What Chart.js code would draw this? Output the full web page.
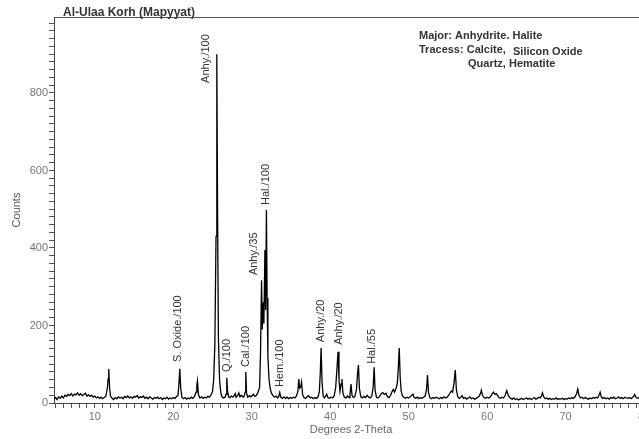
<!DOCTYPE html>
<html>
<head>
<meta charset="utf-8">
<title>Al-Ulaa Korh (Mapyyat)</title>
<script src="https://cdn.jsdelivr.net/npm/chart.js@4.4.0/dist/chart.umd.min.js"></script>
<style>
  html, body { margin: 0; padding: 0; background: #fff; overflow: hidden; }
  #wrap { width: 660px; height: 439px; }
</style>
</head>
<body>
<div id="wrap"><canvas id="xrd"></canvas></div>
<script>
const chartTitle = "Al-Ulaa Korh (Mapyyat)";

// 2-theta positions (degrees), one line per stretch of the scan
const twoTheta = [
  4.8,5.0,5.2,5.4,5.6,5.8,6.0,6.2,6.4,6.6,6.8,7.0,7.2,7.4,7.6,7.8,8.0,8.2,8.4,8.6,8.8,9.0,9.2,9.4,9.6,9.8,10.0,10.2,10.4,10.6,10.8,11.0,11.2,11.4,
  11.6,11.7,11.78,11.88,12.0,
  12.2,12.4,12.6,12.8,13.0,13.2,13.4,13.6,13.8,14.0,14.2,14.4,14.6,14.8,15.0,15.2,15.4,15.6,15.8,16.0,16.2,16.4,16.6,16.8,17.0,17.2,17.4,17.6,17.8,18.0,18.2,18.4,18.6,18.8,19.0,19.2,19.4,19.6,19.8,20.0,20.2,20.4,20.6,
  20.72,20.83,20.95,21.1,
  21.3,21.5,21.7,21.9,22.1,22.3,22.5,22.7,22.9,23.0,23.08,23.2,23.4,23.6,23.8,24.0,24.2,24.4,24.6,24.8,
  25.0,25.15,25.3,25.45,25.55,25.65,25.75,25.9,26.05,26.2,26.4,26.6,
  26.72,26.82,26.92,27.05,27.2,27.4,27.6,27.8,27.9,28.0,28.2,28.35,28.5,28.7,28.9,29.05,29.15,29.24,29.34,29.5,
  29.7,29.9,30.1,30.2,30.4,30.6,30.8,
  31.0,31.12,31.25,31.35,31.45,31.55,31.68,31.77,31.87,31.96,32.06,32.2,32.35,32.5,32.7,32.9,
  33.1,33.3,33.45,33.57,33.7,33.9,34.1,34.3,34.5,34.7,34.9,35.1,35.3,35.5,35.7,35.88,36.0,36.1,36.22,36.35,36.48,36.65,36.85,
  37.05,37.25,37.45,37.65,37.85,38.05,38.25,38.45,38.62,38.74,38.84,38.96,39.1,39.25,39.4,39.55,39.7,39.9,40.1,40.3,40.5,
  40.7,40.88,41.0,41.12,41.25,41.4,41.5,41.62,41.8,42.0,42.2,42.4,42.52,42.65,42.78,42.95,43.15,43.35,43.5,43.6,43.72,43.9,
  44.1,44.3,44.5,44.7,44.9,45.1,45.3,45.47,45.6,45.72,45.9,46.1,46.3,46.5,46.7,46.9,47.1,47.3,47.5,47.7,47.9,48.05,48.2,48.4,48.55,48.68,48.8,48.92,49.05,49.2,49.4,49.6,49.8,
  50.0,50.2,50.4,50.55,50.7,50.9,51.1,51.3,51.5,51.7,51.9,52.1,52.27,52.4,52.52,52.7,52.9,53.1,53.3,53.5,53.7,53.9,54.1,54.3,54.5,54.7,54.9,55.1,55.3,55.45,55.6,55.78,55.94,56.08,56.25,56.45,56.65,56.8,
  57.0,57.2,57.4,57.6,57.8,58.0,58.2,58.4,58.6,58.8,59.0,59.15,59.26,59.4,59.6,59.8,60.0,60.2,60.4,60.6,60.8,61.0,61.15,61.3,61.5,61.7,61.9,62.1,62.3,62.5,62.65,62.8,
  63.0,63.2,63.4,63.6,63.8,64.0,64.2,64.4,64.6,64.8,65.0,65.2,65.4,65.6,65.8,66.0,66.2,66.4,66.6,66.8,66.95,67.05,67.2,67.4,67.6,67.8,
  68.0,68.2,68.4,68.6,68.8,69.0,69.2,69.4,69.6,69.8,70.0,70.2,70.4,70.6,70.8,71.0,71.2,71.4,71.55,71.7,71.9,
  72.1,72.3,72.5,72.7,72.9,73.1,73.3,73.5,73.7,73.9,74.1,74.25,74.4,74.55,74.75,74.95,75.15,75.35,75.55,75.75,
  75.95,76.15,76.35,76.55,76.75,76.95,77.15,77.35,77.55,77.75,77.95,78.15,78.35,78.55,78.7,78.8,78.95,79.15,79.35,79.55,79.75,79.95,80.15,80.35,80.5
];

// counts, same lines as above
const counts = [
  10,14,9,16,12,18,13,20,17,22,19,24,18,23,21,26,20,24,19,22,25,18,21,17,20,15,18,13,16,12,15,11,14,17,
  38,62,88,40,18,
  12,9,14,11,16,13,15,11,17,14,18,13,16,12,17,15,19,13,16,14,18,12,15,11,16,13,10,14,12,15,11,14,9,13,11,15,10,13,11,14,12,16,20,
  48,88,38,15,
  11,14,10,13,11,15,12,17,28,45,57,22,13,16,12,15,13,17,15,20,
  30,60,150,430,900,480,170,60,28,16,13,15,
  22,65,30,16,14,18,15,20,24,15,19,26,16,20,15,18,28,80,25,15,
  19,16,20,23,17,20,28,
  40,130,317,190,260,205,395,240,498,270,120,62,38,26,19,15,
  18,13,17,27,15,12,16,12,15,11,14,12,15,13,18,30,62,38,40,54,22,14,12,
  16,19,13,15,11,14,12,16,30,80,142,55,18,13,17,23,14,12,15,13,18,
  40,95,132,60,30,50,62,26,15,13,18,14,22,49,20,14,17,35,80,98,38,16,
  13,17,14,20,15,13,18,40,92,32,15,13,17,24,27,22,25,16,14,20,30,35,28,38,50,90,142,65,30,18,14,12,15,
  13,16,20,23,14,12,15,11,14,12,15,18,35,72,28,14,11,14,12,15,13,11,14,12,16,13,15,20,27,31,28,52,85,35,16,12,15,19,
  12,14,10,13,16,11,13,10,12,15,18,25,33,20,14,12,15,13,16,22,28,22,24,20,14,12,15,13,20,32,22,16,
  12,10,13,9,11,8,10,12,9,11,13,10,12,9,11,14,10,12,15,13,20,26,16,11,13,10,
  12,9,11,10,13,9,11,10,12,9,11,10,13,11,14,12,16,24,36,20,13,
  15,11,14,12,10,13,11,14,12,15,13,20,28,16,12,14,11,13,10,14,
  12,15,11,13,16,12,14,11,15,13,12,14,11,15,18,22,15,12,14,11,13,12,14,11,13
];

// peak labels: text, 2-theta of the text, count where the text starts
const peakNames = ["S. Oxide./100", "Anhy./100", "Q./100", "Cal./100", "Anhy./35",
                   "Hal./100", "Hem./100", "Anhy./20", "Anhy./20", "Hal./55"];
const peakNameTheta = [20.65, 24.15, 26.82, 29.24, 30.25, 31.78, 33.57, 38.79, 41.08, 45.29];
const peakNameCount = [106, 826, 80, 93, 330, 511, 41, 157, 150, 101];

const xTickLabels = [10, 20, 30, 40, 50, 60, 70, 80];
const yTickLabels = [0, 200, 400, 600, 800];

const fontFamily = '"Liberation Sans", Arial, sans-serif';
Chart.defaults.font.family = fontFamily;

const notesPlugin = {
  id: 'notes',
  afterDraw(chart) {
    const ctx = chart.ctx;
    const area = chart.chartArea;
    const xs = chart.scales.x, ys = chart.scales.y;
    ctx.save();
    // top frame line
    ctx.strokeStyle = '#555';
    ctx.lineWidth = 1;
    ctx.beginPath();
    ctx.moveTo(area.left, area.top + 0.5);
    ctx.lineTo(area.right, area.top + 0.5);
    ctx.stroke();

    ctx.fillStyle = '#333';
    ctx.textAlign = 'left';
    ctx.textBaseline = 'alphabetic';
    ctx.font = 'bold 12px ' + fontFamily;
    ctx.fillText(chartTitle, area.left + 9, 16);

    ctx.font = 'bold 11px ' + fontFamily;
    ctx.fillText('Major: Anhydrite. Halite', 419, 39);
    ctx.fillText('Tracess: Calcite,', 419, 53);
    ctx.fillText('Silicon Oxide', 513, 55);
    ctx.fillText('Quartz, Hematite', 468, 67);

    ctx.font = '11px ' + fontFamily;
    ctx.textBaseline = 'middle';
    peakNames.forEach((name, i) => {
      const px = xs.getPixelForValue(peakNameTheta[i]);
      const py = ys.getPixelForValue(peakNameCount[i]);
      ctx.save();
      ctx.translate(px, py);
      ctx.rotate(-Math.PI / 2);
      ctx.fillText(name, 0, 0);
      ctx.restore();
    });
    ctx.restore();
  }
};

new Chart(document.getElementById('xrd'), {
  type: 'line',
  data: {
    datasets: [{
      data: twoTheta.map((t, i) => ({ x: t, y: counts[i] })),
      borderColor: '#000',
      borderWidth: 1.3,
      pointRadius: 0,
      tension: 0,
      fill: false
    }]
  },
  options: {
    responsive: true,
    maintainAspectRatio: false,
    animation: false,
    layout: { padding: { top: 17, right: 12, left: 0, bottom: 0 } },
    plugins: { legend: { display: false }, tooltip: { enabled: false } },
    scales: {
      x: {
        type: 'linear',
        min: 4.8,
        max: 80.5,
        afterFit(scale) { scale.height = 36; },
        border: { color: '#444' },
        grid: { drawOnChartArea: false, tickLength: 5, tickColor: '#555' },
        ticks: {
          stepSize: 1,
          includeBounds: false,
          autoSkip: false,
          maxRotation: 0,
          padding: 2,
          color: '#777',
          font: { size: 11 },
          callback: v => xTickLabels.includes(Math.round(v * 100) / 100) ? String(Math.round(v)) : ''
        },
        title: { display: true, text: 'Degrees 2-Theta', color: '#666', font: { size: 11 }, padding: { top: 0, bottom: 2 } }
      },
      y: {
        min: 0,
        max: 996,
        afterFit(scale) { scale.width = 54; },
        border: { color: '#444' },
        grid: { drawOnChartArea: false, tickLength: 5, tickColor: '#555' },
        ticks: {
          stepSize: 20,
          includeBounds: false,
          autoSkip: false,
          padding: 1,
          color: '#777',
          font: { size: 11 },
          callback: v => yTickLabels.includes(v) ? String(v) : ''
        },
        title: { display: true, text: 'Counts', color: '#555', font: { size: 11 }, padding: { top: 10, bottom: 0 } }
      }
    }
  },
  plugins: [notesPlugin]
});
</script>
</body>
</html>
